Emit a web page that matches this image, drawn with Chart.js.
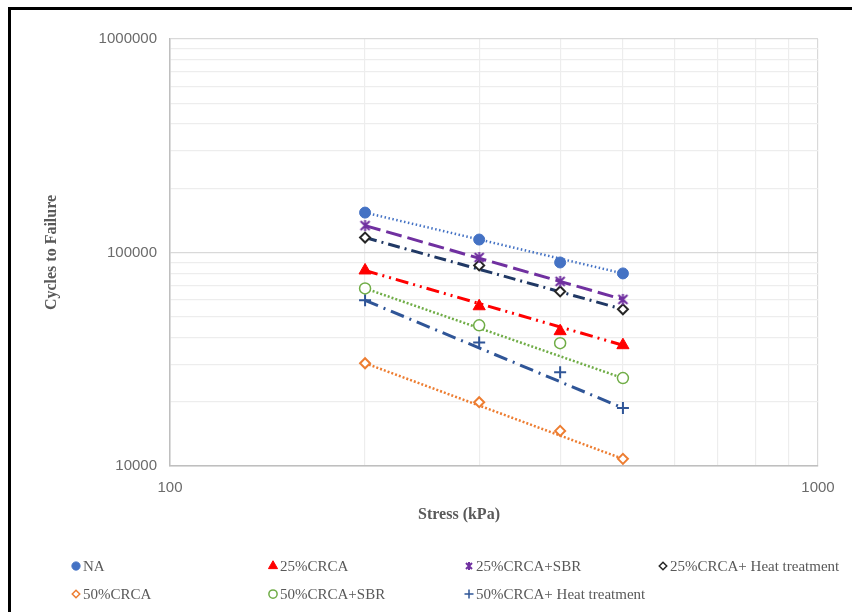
<!DOCTYPE html>
<html>
<head>
<meta charset="utf-8">
<script src="https://cdn.jsdelivr.net/npm/chart.js@4.4.1/dist/chart.umd.min.js"></script>
<style>
  body { margin: 0; background: #fff; }
  #wrap { width: 852px; height: 612px; }
</style>
</head>
<body>
<div id="wrap"><canvas id="fatigueChart" width="852" height="612"></canvas></div>
<script>
// --- data ---
const stress = [200, 300, 400, 500];
const naCycles = [153800, 115000, 89800, 79800];
const crca25 = [82400, 56000, 42800, 36800];
const crca25Sbr = [133700, 94800, 73200, 60300];
const crca25Heat = [117500, 87000, 65700, 54200];
const crca50 = [30300, 19900, 14600, 10800];
const crca50Sbr = [67900, 45600, 37600, 25800];
const crca50Heat = [59700, 37900, 27500, 18700];

const xTicks = [100, 200, 300, 400, 500, 600, 700, 800, 900, 1000];
const yTicks = [10000, 20000, 30000, 40000, 50000, 60000, 70000, 80000, 90000,
                100000, 200000, 300000, 400000, 500000, 600000, 700000, 800000, 900000, 1000000];

const labels = ["NA", "25%CRCA", "25%CRCA+SBR", "25%CRCA+ Heat treatment",
                "50%CRCA", "50%CRCA+SBR", "50%CRCA+ Heat treatment"];
const seriesValues = [naCycles, crca25, crca25Sbr, crca25Heat, crca50, crca50Sbr, crca50Heat];

// excel style star marker: an X with a vertical stroke
function starMarker(size, color, lw) {
    const cv = document.createElement("canvas");
    cv.width = size; cv.height = size;
    const g = cv.getContext("2d");
    const m = lw, e = size - lw, h = size / 2;
    g.strokeStyle = color;
    g.lineWidth = lw;
    g.beginPath();
    g.moveTo(m, m); g.lineTo(e, e);
    g.moveTo(e, m); g.lineTo(m, e);
    g.moveTo(h, m - 1); g.lineTo(h, e + 1);
    g.stroke();
    return cv;
}
const starBig = starMarker(13, "#7030A0", 2);
const starSmall = starMarker(10, "#7030A0", 2);

// look of each series
const looks = [
    { color: "#4472C4", fill: "#4472C4", style: "circle", r: 5.5, bw: 1, dash: [1.5, 2.5], lw: 2.5, lcolor: "#4472C4" },
    { color: "#FF0000", fill: "#FF0000", style: "triangle", r: 7, bw: 1, dash: [13, 5, 2, 5, 2, 5], lw: 3, lcolor: "#FF0000" },
    { color: "#7030A0", fill: "#7030A0", style: starBig, legendStyle: starSmall, r: 6, bw: 2, dash: [16, 6], lw: 3, lcolor: "#7030A0" },
    { color: "#262626", fill: "#ffffff", style: "rectRot", r: 5, bw: 2, dash: [12, 5, 2, 5], lw: 3, lcolor: "#203864" },
    { color: "#ED7D31", fill: "#ffffff", style: "rectRot", r: 5, bw: 2, dash: [2, 2], lw: 2.5, lcolor: "#ED7D31" },
    { color: "#70AD47", fill: "#ffffff", style: "circle", r: 5.5, bw: 1.5, dash: [2, 2], lw: 2.5, lcolor: "#70AD47" },
    { color: "#2F5597", fill: "#2F5597", style: "cross", r: 6, bw: 2, dash: [14, 6, 2, 6], lw: 3, lcolor: "#2F5597" }
];

const datasets = [];
seriesValues.forEach((vals, i) => {
    const lk = looks[i];
    datasets.push({
        label: labels[i],
        data: stress.map((s, j) => ({ x: s, y: vals[j] })),
        showLine: false,
        pointStyle: lk.style,
        pointRadius: lk.r,
        pointBorderWidth: lk.bw,
        pointBackgroundColor: lk.fill,
        pointBorderColor: lk.color,
        order: 1
    });
});
// trend lines from first to last reading (power trend is straight on log-log)
seriesValues.forEach((vals, i) => {
    const lk = looks[i];
    datasets.push({
        label: labels[i] + " trend",
        data: [{ x: stress[0], y: vals[0] }, { x: stress[stress.length - 1], y: vals[vals.length - 1] }],
        showLine: true,
        pointRadius: 0,
        borderColor: lk.lcolor,
        borderWidth: lk.lw,
        borderDash: lk.dash,
        fill: false,
        order: 2
    });
});

const isDecade = v => Math.abs(Math.log10(v) - Math.round(Math.log10(v))) < 1e-9;
const gridColor = ctx => (ctx.tick && isDecade(ctx.tick.value)) ? "#D9D9D9" : "#EDEDED";

// legend grid, x title and the frame lines
const extras = {
    id: "extras",
    beforeDraw(chart) {
        const c = chart.ctx;
        c.save();
        c.fillStyle = "#000";
        c.fillRect(8, 7, 3, 612 - 7);
        c.fillRect(8, 7, 852 - 8, 3);
        c.restore();
    },
    afterDraw(chart) {
        const c = chart.ctx;
        c.save();
        c.fillStyle = "#595959";
        c.font = "bold 16px 'Liberation Serif', 'Times New Roman', serif";
        c.textAlign = "center";
        c.textBaseline = "middle";
        c.fillText("Stress (kPa)", 459, 515);

        const cols = [76, 273, 469, 663];
        const rows = [566, 594];
        c.font = "15px 'Liberation Serif', 'Times New Roman', serif";
        c.textAlign = "left";
        labels.forEach((lab, i) => {
            const col = i < 4 ? i : i - 4;
            const row = i < 4 ? 0 : 1;
            const x = cols[col], y = rows[row];
            const lk = looks[i];
            c.fillStyle = lk.fill;
            c.strokeStyle = lk.color;
            c.lineWidth = Math.min(lk.bw, 1.5);
            Chart.helpers.drawPoint(c, { pointStyle: lk.legendStyle || lk.style, radius: lk.r * 0.75, rotation: 0, borderWidth: c.lineWidth }, x, y);
            c.fillStyle = "#595959";
            c.fillText(lab, x + 7, y + 1);
        });
        c.restore();
    }
};

new Chart(document.getElementById("fatigueChart"), {
    type: "scatter",
    data: { datasets },
    options: {
        responsive: false,
        animation: false,
        layout: { padding: { left: 42, right: 34, top: 39, bottom: 106 } },
        plugins: { legend: { display: false }, tooltip: { enabled: false } },
        scales: {
            x: {
                type: "logarithmic",
                min: 100,
                max: 1000,
                afterBuildTicks: s => { s.ticks = xTicks.map(v => ({ value: v })); },
                afterFit: s => { s.height = 40; },
                ticks: {
                    autoSkip: false,
                    maxRotation: 0,
                    padding: 13,
                    color: "#6b6b6b",
                    font: { family: "'Liberation Sans', Arial, sans-serif", size: 15 },
                    callback: v => isDecade(v) ? String(v) : ""
                },
                grid: { color: gridColor, lineWidth: 1.2, drawTicks: false },
                border: { display: true, color: "#BFBFBF", width: 1.5 }
            },
            y: {
                type: "logarithmic",
                min: 10000,
                max: 1000000,
                afterBuildTicks: s => { s.ticks = yTicks.map(v => ({ value: v })); },
                afterFit: s => { s.width = 128; },
                ticks: {
                    autoSkip: false,
                    padding: 13,
                    color: "#6b6b6b",
                    font: { family: "'Liberation Sans', Arial, sans-serif", size: 15 },
                    callback: v => isDecade(v) ? String(v) : ""
                },
                grid: { color: gridColor, lineWidth: 1.2, drawTicks: false },
                border: { display: true, color: "#BFBFBF", width: 1.5 },
                title: {
                    display: true,
                    text: "Cycles to Failure",
                    color: "#595959",
                    padding: 0,
                    font: { family: "'Liberation Serif', 'Times New Roman', serif", size: 16, weight: "bold" }
                }
            }
        }
    },
    plugins: [extras]
});
</script>
</body>
</html>
